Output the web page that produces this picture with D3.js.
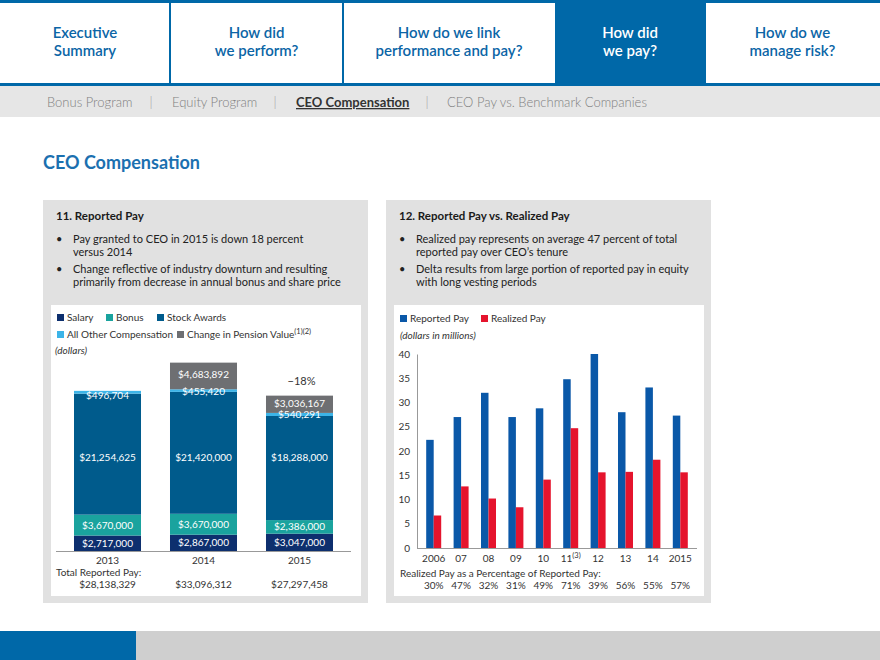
<!DOCTYPE html>
<html>
<head>
<meta charset="utf-8">
<script src="https://cdn.jsdelivr.net/npm/d3@7"></script>
<style>
  body { margin: 0; background: #fff; }
  svg { display: block; font-family: Lato, "Noto Sans", sans-serif; }
</style>
</head>
<body>
<svg id="page" width="880" height="660"></svg>
<script>
// ---- data ------------------------------------------------------------------
const navItems = [
    ['Executive', 'Summary'],
    ['How did', 'we perform?'],
    ['How do we link', 'performance and pay?'],
    ['How did', 'we pay?'],
    ['How do we', 'manage risk?']
];
const subNav = ['Bonus Program', 'Equity Program', 'CEO Compensation', 'CEO Pay vs. Benchmark Companies'];

const years = ['2013', '2014', '2015'];
const components = ['Salary', 'Bonus', 'Stock Awards', 'All Other Compensation', 'Change in Pension Value'];
const salary = [2717000, 2867000, 3047000];
const bonus = [3670000, 3670000, 2386000];
const stockAwards = [21254625, 21420000, 18288000];
const allOther = [496704, 455420, 540291];
const pension = [0, 4683892, 3036167];
const totals = ['$28,138,329', '$33,096,312', '$27,297,458'];

const payYears = ['2006', '07', '08', '09', '10', '11', '12', '13', '14', '2015'];
const reportedPay = [22.3, 27.0, 32.0, 27.0, 28.8, 34.8, 40.0, 28.0, 33.1, 27.3];
const realizedPay = [6.7, 12.7, 10.2, 8.4, 14.1, 24.7, 15.6, 15.7, 18.2, 15.6];
const realizedPct = ['30%', '47%', '32%', '31%', '49%', '71%', '39%', '56%', '55%', '57%'];
const payTicks = [0, 5, 10, 15, 20, 25, 30, 35, 40];

// ---- page ------------------------------------------------------------------
const svg = d3.select('#page');
const blue = '#0068a8';
const compColors = ['#0d2f6e', '#1aa39e', '#005b8c', '#3cb4e8', '#6e6f72'];

// top navigation
const navX = [0, 170, 343, 555, 705, 880];
svg.append('rect').attr('width', 880).attr('height', 86).attr('fill', '#fff');
svg.append('rect').attr('x', navX[3]).attr('y', 0).attr('width', navX[4] - navX[3]).attr('height', 86).attr('fill', blue);
svg.append('rect').attr('width', 880).attr('height', 3).attr('fill', blue);
svg.append('rect').attr('y', 83).attr('width', 880).attr('height', 3).attr('fill', blue);
[1, 2, 4].forEach(i => {
    svg.append('rect').attr('x', navX[i] - 1).attr('y', 0).attr('width', 2).attr('height', 86).attr('fill', blue);
});
navItems.forEach((lines, i) => {
    const cx = (navX[i] + navX[i + 1]) / 2;
    const t = svg.append('text')
        .attr('text-anchor', 'middle')
        .attr('font-size', 15)
        .attr('font-weight', 600)
        .attr('fill', i === 3 ? '#fff' : '#0b65a6');
    lines.forEach((l, j) => {
        t.append('tspan').attr('x', cx).attr('y', 38 + j * 18).text(l);
    });
});

// sub navigation
svg.append('rect').attr('y', 86).attr('width', 880).attr('height', 31).attr('fill', '#e6e6e6');
const subX = [47, 172, 296, 447];
const sepX = [151, 275, 427];
subNav.forEach((s, i) => {
    const t = svg.append('text')
        .attr('x', subX[i]).attr('y', 107)
        .attr('font-size', 13)
        .attr('fill', i === 2 ? '#333' : '#808080')
        .attr('font-weight', i === 2 ? 700 : 300)
        .text(s);
    if (i === 2) t.attr('text-decoration', 'underline');
});
sepX.forEach(x => {
    svg.append('text').attr('x', x).attr('y', 107).attr('font-size', 13).attr('font-weight', 300)
        .attr('fill', '#9a9a9a').attr('text-anchor', 'middle').text('|');
});

svg.append('text').attr('x', 43).attr('y', 169)
    .attr('font-size', 18).attr('font-weight', 700).attr('fill', '#1b70b0')
    .text('CEO Compensation');

// footer
svg.append('rect').attr('y', 631).attr('width', 880).attr('height', 29).attr('fill', '#cfcfcf');
svg.append('rect').attr('y', 631).attr('width', 136).attr('height', 29).attr('fill', blue);

// ---- panels ----------------------------------------------------------------
const panel = (x, title, bullets) => {
    svg.append('rect').attr('x', x).attr('y', 200).attr('width', 325).attr('height', 403).attr('fill', '#e1e1e1');
    svg.append('rect').attr('x', x + 8).attr('y', 305).attr('width', 310).attr('height', 291).attr('fill', '#fff');
    svg.append('text').attr('x', x + 13).attr('y', 220)
        .attr('font-size', 11.5).attr('font-weight', 700).attr('fill', '#1a1a1a').text(title);
    let y = 243;
    bullets.forEach(lines => {
        svg.append('text').attr('x', x + 13).attr('y', y).attr('font-size', 11).attr('fill', '#222').text('•');
        lines.forEach(l => {
            svg.append('text').attr('x', x + 30).attr('y', y)
                .attr('font-size', 11).attr('fill', '#222').text(l);
            y += 13;
        });
        y += 4;
    });
};

panel(43, '11. Reported Pay', [
    ['Pay granted to CEO in 2015 is down 18 percent', 'versus 2014'],
    ['Change reflective of industry downturn and resulting', 'primarily from decrease in annual bonus and share price']
]);
panel(386, '12. Reported Pay vs. Realized Pay', [
    ['Realized pay represents on average 47 percent of total', 'reported pay over CEO\u2019s tenure'],
    ['Delta results from large portion of reported pay in equity', 'with long vesting periods']
]);

const legendItem = (x, y, color, label, sup) => {
    svg.append('rect').attr('x', x).attr('y', y - 7).attr('width', 7).attr('height', 7).attr('fill', color);
    const t = svg.append('text').attr('x', x + 10).attr('y', y)
        .attr('font-size', 10).attr('fill', '#333').text(label);
    if (sup) t.append('tspan').attr('dy', -4).attr('font-size', 7.5).text(sup);
};

// ---- chart 11: stacked bars -------------------------------------------------
const stackRows = years.map((y, i) => ({
    year: y,
    'Salary': salary[i],
    'Bonus': bonus[i],
    'Stock Awards': stockAwards[i],
    'All Other Compensation': allOther[i],
    'Change in Pension Value': pension[i]
}));
const series = d3.stack().keys(components)(stackRows);

const x1 = d3.scaleBand().domain(years).range([56, 351]).paddingInner(0.302).paddingOuter(0.1875);
const y1 = d3.scaleLinear().domain([0, 35e6]).range([551, 351.8]);

legendItem(57, 321, compColors[0], 'Salary');
legendItem(106, 321, compColors[1], 'Bonus');
legendItem(157, 321, compColors[2], 'Stock Awards');
legendItem(57, 338, compColors[3], 'All Other Compensation');
legendItem(177, 338, compColors[4], 'Change in Pension Value', '(1)(2)');
svg.append('text').attr('x', 55).attr('y', 354).attr('font-size', 10)
    .attr('font-style', 'italic').attr('fill', '#333').text('(dollars)');

const fmt = d3.format('$,');
const g1 = svg.append('g');
series.forEach((s, k) => {
    g1.selectAll(null).data(s.filter(d => d[1] > d[0])).enter()
        .append('rect')
        .attr('x', d => x1(d.data.year))
        .attr('width', x1.bandwidth())
        .attr('y', d => y1(d[1]))
        .attr('height', d => y1(d[0]) - y1(d[1]))
        .attr('fill', compColors[k]);
});
// stock award labels share one row, as in the original
const stockLabelY = y1(16.5e6) + 3.5;
series.forEach((s, k) => {
    g1.selectAll(null).data(s.filter(d => d[1] > d[0])).enter()
        .append('text')
        .attr('x', d => x1(d.data.year) + x1.bandwidth() / 2)
        .attr('y', d => {
            if (k === 2) return stockLabelY;
            if (k === 3) return y1(d[1]) + (d.data['Change in Pension Value'] > 0 ? 5.5 : 8.5);
            if (k === 4) return (y1(d[0]) + y1(d[1])) / 2 + 2.5;
            return (y1(d[0]) + y1(d[1])) / 2 + 3.5;
        })
        .attr('text-anchor', 'middle')
        .attr('font-size', 10)
        .attr('fill', '#fff')
        .text(d => fmt(d[1] - d[0]));
});
svg.append('line').attr('x1', 56).attr('x2', 351).attr('y1', 551.5).attr('y2', 551.5)
    .attr('stroke', '#999').attr('stroke-width', 1);
svg.append('text').attr('x', x1('2015') + x1.bandwidth() / 2 + 2).attr('y', 385)
    .attr('text-anchor', 'middle').attr('font-size', 11).attr('fill', '#333').text('\u221218%');

years.forEach((y, i) => {
    const cx = x1(y) + x1.bandwidth() / 2;
    svg.append('text').attr('x', cx).attr('y', 564).attr('text-anchor', 'middle')
        .attr('font-size', 10).attr('fill', '#333').text(y);
    svg.append('text').attr('x', cx).attr('y', 588).attr('text-anchor', 'middle')
        .attr('font-size', 10).attr('fill', '#333').text(totals[i]);
});
svg.append('text').attr('x', 56).attr('y', 576).attr('font-size', 10).attr('fill', '#333').text('Total Reported Pay:');

// ---- chart 12: grouped bars ---------------------------------------------------
legendItem(400, 322, '#0a58a8', 'Reported Pay');
legendItem(481, 322, '#e5142d', 'Realized Pay');
svg.append('text').attr('x', 400).attr('y', 339).attr('font-size', 10)
    .attr('font-style', 'italic').attr('fill', '#333').text('(dollars in millions)');

const x2 = d3.scaleBand().domain(payYears).range([420, 694]);
const y2 = d3.scaleLinear().domain([0, 40]).range([548, 354]);
const barW = 7.5;
const g2 = svg.append('g');

g2.selectAll('.rep').data(payYears).enter().append('rect')
    .attr('x', (d) => x2(d) + x2.bandwidth() / 2 - barW)
    .attr('width', barW)
    .attr('y', (d, i) => y2(reportedPay[i]))
    .attr('height', (d, i) => y2(0) - y2(reportedPay[i]))
    .attr('fill', '#0a58a8');
g2.selectAll('.real').data(payYears).enter().append('rect')
    .attr('x', (d) => x2(d) + x2.bandwidth() / 2)
    .attr('width', barW)
    .attr('y', (d, i) => y2(realizedPay[i]))
    .attr('height', (d, i) => y2(0) - y2(realizedPay[i]))
    .attr('fill', '#e5142d');

const yAxis = svg.append('g').attr('transform', 'translate(417,0)')
    .call(d3.axisLeft(y2).tickValues(payTicks).tickSize(0).tickPadding(7));
yAxis.select('.domain').attr('stroke', '#999');
yAxis.selectAll('text').attr('font-size', 10).attr('fill', '#333').attr('font-family', 'Lato, "Noto Sans", sans-serif');
svg.append('line').attr('x1', 417).attr('x2', 697).attr('y1', 548.5).attr('y2', 548.5)
    .attr('stroke', '#999');

payYears.forEach((y, i) => {
    const cx = x2(y) + x2.bandwidth() / 2;
    const t = svg.append('text').attr('x', cx).attr('y', 562).attr('text-anchor', 'middle')
        .attr('font-size', 10).attr('fill', '#333').text(y);
    if (y === '11') t.append('tspan').attr('dy', -4).attr('font-size', 7.5).text('(3)');
    svg.append('text').attr('x', cx).attr('y', 589).attr('text-anchor', 'middle')
        .attr('font-size', 10).attr('fill', '#333').text(realizedPct[i]);
});
svg.append('text').attr('x', 400).attr('y', 577).attr('font-size', 10).attr('fill', '#333')
    .text('Realized Pay as a Percentage of Reported Pay:');
</script>
</body>
</html>
